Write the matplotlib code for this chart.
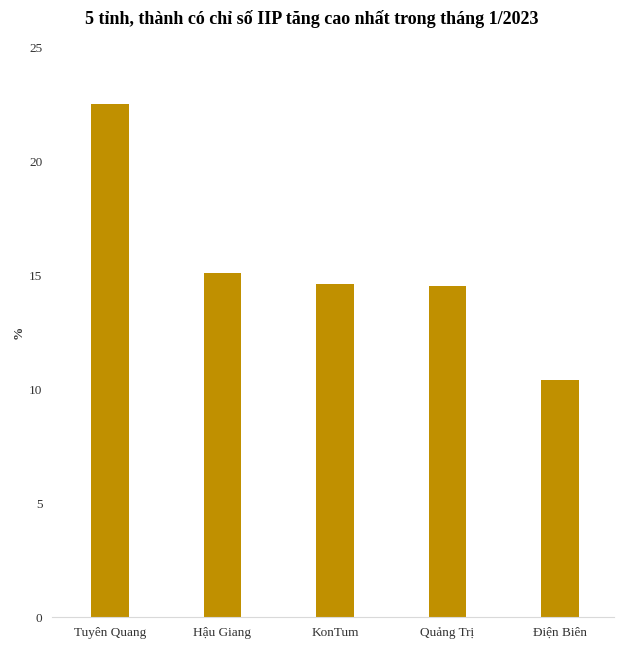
import matplotlib.pyplot as plt

provinces = ["Tuyên Quang", "Hậu Giang", "KonTum", "Quảng Trị", "Điện Biên"]
iip_growth = [22.5, 15.1, 14.6, 14.5, 10.4]
y_ticks = [0, 5, 10, 15, 20, 25]

plt.rcParams["font.family"] = ["Liberation Serif", "DejaVu Serif"]

fig = plt.figure(figsize=(6.3, 6.45), dpi=100)
ax = fig.add_axes([0.0825, 0.0434, 0.892, 0.8836])

x = range(len(provinces))
ax.bar(x, iip_growth, width=0.33, color="#C09000")

ax.set_xlim(-0.516, 4.48)
ax.set_ylim(0, 25)
ax.set_yticks(y_ticks)
ax.set_xticks(list(x))
ax.set_xticklabels(provinces)
ax.tick_params(axis="both", length=0, labelsize=9.5, colors="#333333")
ax.tick_params(axis="y", pad=7)
ax.tick_params(axis="x", pad=7)

for side in ["top", "right", "left"]:
    ax.spines[side].set_visible(False)
ax.spines["bottom"].set_color("#d9d9d9")

ax.set_ylabel("%", fontsize=9.5, fontweight="bold", color="#333333", labelpad=3)

fig.suptitle("5 tỉnh, thành có chỉ số IIP tăng cao nhất trong tháng 1/2023",
             fontsize=13, fontweight="bold", x=0.495, y=0.985)

fig.savefig("out.png", dpi=100)
